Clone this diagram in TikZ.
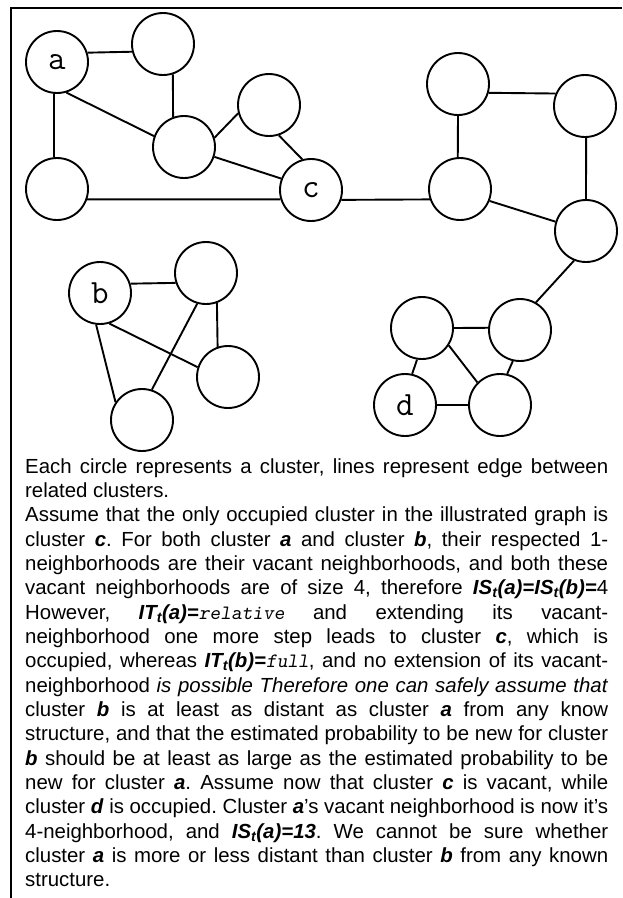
\documentclass[tikz,border=0pt]{standalone}
\usepackage{fontspec}
\setmainfont{Liberation Sans}
% bold italic symbols and slanted typewriter values used in the caption
\newcommand\bi[1]{\textbf{\textit{#1}}}
\newcommand\tti[1]{{\ttfamily\slshape #1}}
\newcommand\sub[1]{\textsubscript{#1}}
% one justified caption line, and a ragged last line of a paragraph
\newcommand\fullline[1]{\hbox to 583pt{\strut #1}}
\newcommand\lastline[1]{\hbox to 583pt{\strut #1\hfil}}
\tikzset{
  cl/.style={circle, draw, line width=1.9pt, minimum size=62pt, inner sep=0pt,
             font=\ttfamily\fontsize{34}{34}\selectfont},
  link/.style={line width=1.9pt},
  frame/.style={line width=1.4pt}
}
\begin{document}
\begin{tikzpicture}[x=1pt,y=-1pt]
\useasboundingbox (0,0) rectangle (622,898);

% frame
\coordinate (tl) at (11,8);
\coordinate (tr) at (622,8);
\coordinate (bl) at (11,898);
\draw[frame] (10,8) -- (tr);
\draw[frame] (tl) -- (bl);

% upper left cluster group
\node[cl] (a)  at (57,62)   {a};
\node[cl] (n2) at (163,44)  {};
\node[cl] (n3) at (184,147) {};
\node[cl] (n4) at (269,105) {};
\node[cl] (n5) at (57,189)  {};
\node[cl] (c)  at (311,190) {c};

% right cluster group
\node[cl] (n6)  at (458,84)  {};
\node[cl] (n7)  at (585,106) {};
\node[cl] (n8)  at (460,189) {};
\node[cl] (n9)  at (586,231) {};
\node[cl] (n10) at (422,328) {};
\node[cl] (n11) at (520,330) {};
\node[cl] (d)   at (405,405) {d};
\node[cl] (n13) at (500,405) {};

% lower left cluster group
\node[cl] (b)   at (100,293) {b};
\node[cl] (n14) at (206,273) {};
\node[cl] (n15) at (228,377) {};
\node[cl] (n16) at (142,420) {};

% edges
\draw[link] (a.17) -- (n2.194);
\draw[link] (n2.-72) -- (n3.110);
\draw[link] (a.-73) -- (n3.160);
\draw[link] (a.-95) -- (n5.95);
\draw[link] (n3.17) -- (n4.195);
\draw[link] (n3.-18) -- (c.159);
\draw[link] (n4.-72) -- (c.106);
\draw[link] (n5.-19) -- (c.197);
\draw[link] (c.-18) -- (n8.199);
\draw[link] (n6.-16) -- (n7.157);
\draw[link] (n6.-90) -- (n8.94);
\draw[link] (n7.-88) -- (n9.90);
\draw[link] (n8.-22) -- (n9.163);
\draw[link] (n9.-112) -- (n11.60);
\draw[link] (n10.0) -- (n11.176);
\draw[link] (n10.-99) -- (d.77);
\draw[link] (n10.-33) -- (n13.135);
\draw[link] (n11.-103) -- (n13.77);
\draw[link] (d.0) -- (n13.180);
\draw[link] (b.17) -- (n14.198);
\draw[link] (n14.-70) -- (n15.109);
\draw[link] (b.-73) -- (n15.162);
\draw[link] (b.-97) -- (n16.146);
\draw[link] (n14.-106) -- (n16.72);

% caption
\node[anchor=base west, inner sep=0pt] (caption) at (25,473) {\vtop{%
\fontsize{20.4pt}{24.35pt}\selectfont\frenchspacing
\fullline{Each circle represents a cluster, lines represent edge between}
\lastline{related clusters.}
\fullline{Assume that the only occupied cluster in the illustrated graph is}
\fullline{cluster \bi{c}. For both cluster \bi{a} and cluster \bi{b}, their respected 1-}
\fullline{neighborhoods are their vacant neighborhoods, and both these}
\fullline{vacant neighborhoods are of size 4, therefore \bi{IS\sub{t}(a)=IS\sub{t}(b)=}4}
\fullline{However, \bi{IT\sub{t}(a)=}\tti{relative} and extending its vacant-}
\fullline{neighborhood one more step leads to cluster \bi{c}, which is}
\fullline{occupied, whereas \bi{IT\sub{t}(b)=}\tti{full}, and no extension of its vacant-}
\fullline{neighborhood \textit{is possible Therefore one can safely assume that}}
\fullline{cluster \bi{b} is at least as distant as cluster \bi{a} from any know}
\fullline{structure, and that the estimated probability to be new for cluster}
\fullline{\bi{b} should be at least as large as the estimated probability to be}
\fullline{new for cluster \bi{a}. Assume now that cluster \bi{c} is vacant, while}
\fullline{cluster \bi{d} is occupied. Cluster \bi{a}'s vacant neighborhood is now it's}
\fullline{4-neighborhood, and \bi{IS\sub{t}(a)=13}. We cannot be sure whether}
\fullline{cluster \bi{a} is more or less distant than cluster \bi{b} from any known}
\lastline{structure.}
}};
\end{tikzpicture}
\end{document}
